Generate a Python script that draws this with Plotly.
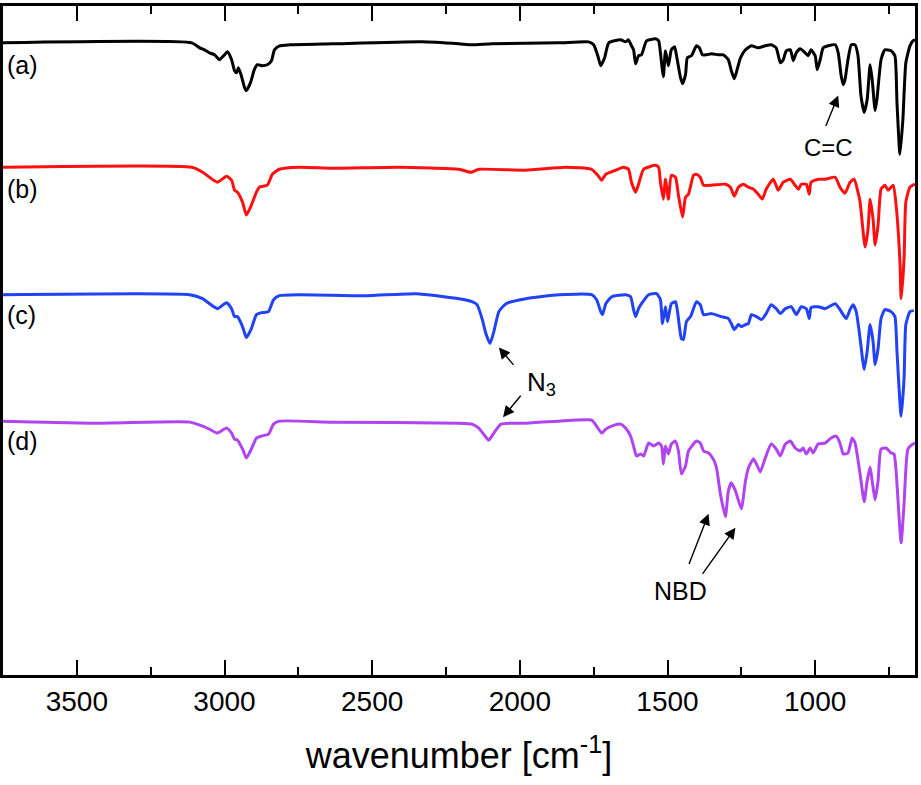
import plotly.graph_objects as go

# IR spectra, stacked (arbitrary units, larger = further down / stronger absorption)
wn_a = [3750, 3111, 3084, 3068, 3051, 3034, 3017, 3003, 2990, 2976, 2966, 2959, 2953, 2943, 2932, 2926, 2912, 2899, 2889, 2872, 2855, 2841, 2831, 2814, 2780, 2635, 2331, 2206, 2162, 2095, 1868, 1767, 1750, 1736, 1726, 1713, 1699, 1659, 1642, 1632, 1622, 1615, 1608, 1598, 1588, 1571, 1541, 1530, 1524, 1514, 1507, 1497, 1487, 1476, 1470, 1456, 1449, 1439, 1433, 1419, 1402, 1392, 1382, 1368, 1351, 1328, 1311, 1294, 1284, 1274, 1267, 1253, 1236, 1216, 1193, 1169, 1149, 1132, 1118, 1108, 1098, 1084, 1074, 1064, 1051, 1034, 1024, 1014, 1000, 993, 983, 973, 956, 932, 922, 912, 905, 899, 889, 878, 865, 855, 845, 834, 824, 814, 807, 797, 791, 777, 764, 743, 730, 723, 713, 703, 693, 679, 669, 662]
val_a = [40, 40, 45, 47, 50, 52, 57, 53, 49, 57, 68, 70, 65, 73, 85, 88, 80, 67, 62, 63, 62, 58, 47, 43, 42, 41, 39, 41, 42, 41, 40, 39, 42, 53, 63, 55, 40, 37, 39, 37, 43, 47, 61, 53, 52, 38, 36, 38, 50, 74, 48, 63, 47, 44, 52, 75, 81, 72, 55, 53, 43, 45, 52, 52, 51, 52, 52, 57, 68, 76, 70, 55, 47, 43, 45, 43, 42, 45, 60, 57, 48, 47, 58, 50, 46, 50, 53, 47, 53, 67, 57, 45, 43, 42, 50, 73, 82, 77, 57, 42, 42, 53, 93, 110, 97, 62, 77, 108, 97, 57, 47, 48, 53, 100, 152, 117, 60, 43, 38, 37]

wn_b = [3750, 3111, 3074, 3051, 3024, 2993, 2976, 2966, 2956, 2939, 2926, 2909, 2892, 2882, 2855, 2838, 2814, 2747, 2635, 2409, 2206, 2166, 2139, 1980, 1845, 1757, 1736, 1723, 1709, 1676, 1649, 1632, 1622, 1608, 1598, 1581, 1541, 1530, 1524, 1514, 1507, 1497, 1487, 1473, 1463, 1449, 1439, 1429, 1412, 1402, 1389, 1378, 1351, 1304, 1287, 1274, 1260, 1243, 1226, 1209, 1193, 1179, 1166, 1142, 1125, 1108, 1084, 1068, 1057, 1047, 1030, 1020, 1014, 990, 966, 932, 916, 899, 882, 868, 855, 848, 831, 821, 814, 804, 797, 787, 777, 764, 753, 736, 726, 713, 709, 699, 693, 679, 662]
val_b = [165, 165, 170, 175, 180, 174, 178, 188, 190, 200, 213, 203, 190, 185, 183, 172, 167, 165, 166, 165, 167, 170, 167, 168, 165, 167, 173, 178, 172, 168, 165, 167, 180, 190, 182, 167, 163, 165, 180, 197, 177, 197, 173, 175, 193, 215, 195, 192, 173, 172, 175, 183, 183, 182, 185, 194, 185, 182, 185, 187, 192, 197, 187, 177, 188, 180, 177, 183, 187, 182, 182, 192, 180, 177, 177, 175, 185, 191, 180, 177, 190, 200, 245, 227, 197, 217, 243, 223, 187, 183, 188, 183, 203, 260, 297, 257, 200, 185, 182]

wn_c = [3750, 3118, 3074, 3051, 3024, 2993, 2976, 2966, 2956, 2939, 2926, 2909, 2892, 2875, 2851, 2834, 2814, 2747, 2520, 2351, 2206, 2162, 2145, 2128, 2115, 2101, 2088, 2071, 2047, 1980, 1868, 1757, 1740, 1726, 1720, 1709, 1689, 1642, 1625, 1615, 1608, 1598, 1588, 1564, 1537, 1524, 1517, 1507, 1500, 1487, 1473, 1466, 1453, 1446, 1436, 1422, 1402, 1389, 1378, 1351, 1318, 1294, 1284, 1274, 1260, 1250, 1236, 1226, 1216, 1199, 1182, 1166, 1149, 1132, 1118, 1101, 1081, 1064, 1047, 1030, 1020, 1014, 990, 966, 932, 916, 895, 882, 872, 861, 848, 834, 824, 814, 804, 797, 787, 777, 764, 743, 730, 723, 709, 699, 693, 679, 666]
val_c = [293, 293, 297, 302, 307, 301, 307, 315, 315, 325, 336, 327, 313, 311, 310, 298, 294, 293, 294, 292, 297, 300, 303, 317, 332, 342, 330, 310, 302, 297, 293, 293, 298, 310, 313, 302, 295, 293, 295, 308, 315, 307, 302, 293, 292, 298, 322, 305, 320, 302, 300, 310, 337, 338, 320, 315, 300, 303, 313, 312, 315, 317, 322, 328, 323, 325, 323, 322, 313, 315, 318, 312, 303, 307, 312, 307, 305, 313, 305, 307, 317, 306, 305, 307, 302, 308, 317, 308, 303, 310, 337, 368, 350, 323, 340, 363, 347, 317, 308, 310, 315, 350, 415, 377, 323, 310, 309]

wn_d = [3750, 3422, 3118, 3074, 3051, 3024, 2993, 2976, 2966, 2956, 2939, 2926, 2909, 2892, 2875, 2851, 2834, 2814, 2635, 2206, 2162, 2139, 2118, 2105, 2088, 2064, 1980, 1868, 1757, 1740, 1723, 1709, 1689, 1659, 1642, 1625, 1615, 1605, 1591, 1581, 1564, 1547, 1530, 1520, 1514, 1507, 1497, 1487, 1473, 1463, 1453, 1439, 1429, 1402, 1389, 1378, 1361, 1345, 1334, 1321, 1304, 1294, 1284, 1270, 1250, 1236, 1226, 1209, 1199, 1186, 1169, 1149, 1132, 1118, 1101, 1084, 1068, 1051, 1041, 1030, 1017, 1007, 990, 966, 946, 929, 916, 905, 889, 875, 865, 848, 834, 824, 814, 807, 797, 787, 777, 760, 743, 733, 726, 709, 699, 686, 669, 662]
val_d = [420, 422, 421, 425, 428, 432, 427, 432, 438, 439, 448, 457, 448, 437, 435, 433, 423, 420, 421, 422, 423, 427, 435, 439, 432, 423, 422, 420, 419, 425, 432, 428, 425, 423, 427, 435, 445, 455, 453, 455, 442, 445, 442, 445, 463, 445, 453, 443, 440, 450, 473, 465, 450, 440, 442, 450, 452, 458, 467, 493, 516, 490, 482, 490, 508, 480, 467, 458, 463, 471, 457, 443, 448, 455, 443, 440, 447, 450, 447, 453, 447, 452, 443, 442, 437, 435, 442, 453, 452, 437, 442, 473, 501, 480, 466, 480, 499, 480, 448, 447, 452, 453, 470, 542, 503, 448, 443, 442]

series = [
    ("(a)", wn_a, val_a, "#000000"),
    ("(b)", wn_b, val_b, "#ff1010"),
    ("(c)", wn_c, val_c, "#2142f5"),
    ("(d)", wn_d, val_d, "#b044f0"),
]
label_wn = 3744
label_pos = [62, 187, 313, 440]

tick_vals = [3500, 3000, 2500, 2000, 1500, 1000]
tick_text = ["3500", "3000", "2500", "2000", "1500", "1000"]

fig = go.Figure()
for name, x, y, c in series:
    fig.add_trace(go.Scatter(x=x, y=y, mode="lines", name=name,
                             line=dict(color=c, width=3, shape="spline", smoothing=0.5),
                             showlegend=False))

FONT = "Liberation Sans, Arial, sans-serif"
ann = []
for (name, *_), ly in zip(series, label_pos):
    ann.append(dict(x=label_wn, y=ly, xref="x", yref="y", text=name, showarrow=False,
                    xanchor="left", yanchor="middle", font=dict(size=25, color="black", family=FONT)))

# text labels
ann.append(dict(x=956, y=145, xref="x", yref="y", text="C=C", showarrow=False,
                font=dict(size=24, color="black", family=FONT)))
ann.append(dict(x=1926, y=382, xref="x", yref="y", text="N<sub>3</sub>", showarrow=False,
                font=dict(size=26, color="black", family=FONT)))
ann.append(dict(x=1456, y=591, xref="x", yref="y", text="NBD", showarrow=False,
                font=dict(size=25, color="black", family=FONT)))

# arrows: (head_x, head_y, tail_x, tail_y)
arrows = [
    (922, 93, 966, 125),
    (2071, 346, 2017, 365),
    (2057, 416, 1993, 393),
    (1361, 513, 1429, 565),
    (1270, 527, 1385, 575),
]
for hx, hy, tx, ty in arrows:
    ann.append(dict(x=hx, y=hy, ax=tx, ay=ty, xref="x", yref="y", axref="x", ayref="y",
                    text="", showarrow=True, arrowhead=2, arrowsize=1.6, arrowwidth=1.4,
                    arrowcolor="black", standoff=0, startstandoff=0))

fig.update_layout(
    width=921, height=785,
    margin=dict(l=3, r=4, t=3, b=110),
    plot_bgcolor="white", paper_bgcolor="white",
    annotations=ann,
    xaxis=dict(range=[3750, 662], tickvals=tick_vals, ticktext=tick_text,
               ticks="inside", ticklen=15, tickwidth=2, tickcolor="black",
               minor=dict(dtick=250, tick0=0, ticks="inside", ticklen=8, tickwidth=2, tickcolor="black"),
               showline=True, linewidth=2.5, linecolor="black", mirror="allticks",
               showgrid=False, zeroline=False,
               tickfont=dict(size=28, color="black", family=FONT),
               title=dict(text="wavenumber [cm<sup>-1</sup>]", font=dict(size=36, color="black", family=FONT),
                          standoff=27)),
    yaxis=dict(range=[675, 3], showticklabels=False, ticks="", showgrid=False, zeroline=False,
               showline=True, linewidth=2.5, linecolor="black", mirror=True),
)

fig.write_html("out.html", config={"displayModeBar": False},
               post_script="document.body.style.margin='0';")
